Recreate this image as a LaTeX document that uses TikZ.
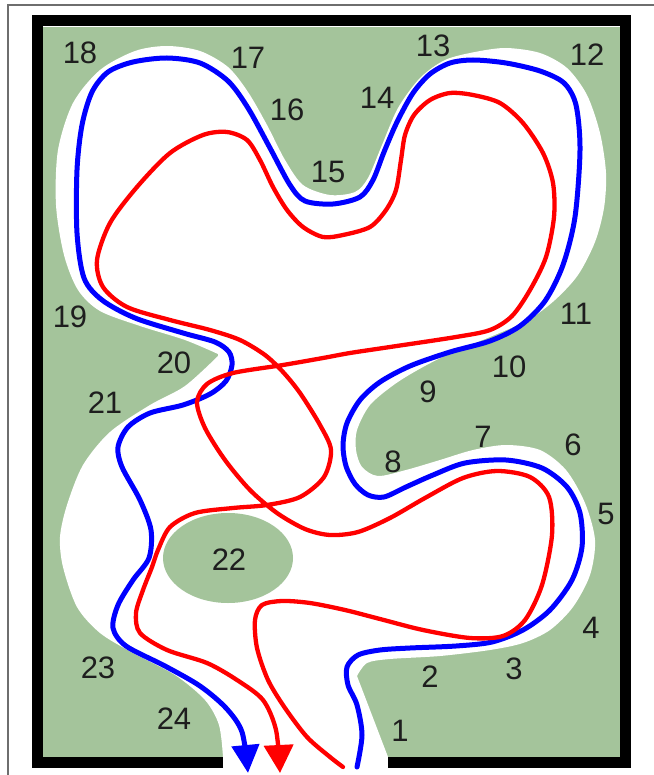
\documentclass[tikz,border=0pt]{standalone}
\usepackage{fontspec}
\setmainfont{Liberation Sans}
\usetikzlibrary{arrows.meta}
\definecolor{floorgreen}{RGB}{164,196,155}
\definecolor{labelgray}{RGB}{30,30,30}
\definecolor{framegray}{RGB}{110,110,110}
\tikzset{
  lbl/.style={text=labelgray,font=\fontsize{31}{32}\selectfont,inner sep=0pt},
  bluepath/.style={draw={rgb,255:red,0;green,0;blue,255},line width=5pt,line cap=round,line join=round},
  redpath/.style={draw={rgb,255:red,255;green,0;blue,0},line width=4.3pt,line cap=round,line join=round},
  wall/.style={line width=11pt,line join=miter,draw=black}
}
\begin{document}
\begin{tikzpicture}[x=1pt,y=-1pt]
\useasboundingbox (0,0) rectangle (653,775);
% outer frame
\draw[framegray,line width=1.5pt] (8,5) rectangle (670,800);
% floor
\fill[floorgreen] (43,27) rectangle (620,757);
% white free area
\fill[white] plot[smooth,tension=0.5] coordinates {(223,757) (219,725) (205,700) (175,675) (133,653) (100,633) (77,607) (63,567) (60,537) (67,505) (83,465) (110,432) (150,405) (185,386) (218,356)}
 -- plot[smooth,tension=0.5] coordinates {(218,354) (185,340) (140,326) (100,311) (78,290) (64,255) (56,205) (58,150) (73,103) (100,70) (135,51) (167,46) (200,51) (228,67) (248,92) (267,125) (285,160) (303,185) (330,195) (355,192) (368,178) (382,145) (398,108) (420,78) (445,60) (475,52) (506,48) (540,53) (567,68) (587,95) (600,133) (606,173) (604,208) (595,242) (578,275) (555,300) (528,320) (490,337) (455,351) (423,367) (395,384) (370,405) (357,430) (356,450) (362,467) (378,476) (406,470) (440,460) (473,450) (506,445) (540,450) (566,470) (585,503) (595,540) (590,575) (573,607) (550,630) (523,643) (490,650) (440,656) (390,659) (367,663) (357,676)}
 -- (388,757) -- (388,780) -- (223,780) -- cycle;
% island 22
\fill[floorgreen] (228,558) ellipse [x radius=65, y radius=45];
% walls
\draw[wall] (223,762.5) -- (37.5,762.5) -- (37.5,21) -- (625.5,21) -- (625.5,762.5) -- (388,762.5);
% blue path
\draw[bluepath,-{Triangle[width=27pt,length=28pt]}] plot[smooth,tension=0.5] coordinates {(357,767) (362,735) (357,705) (348,685) (347,667) (358,655) (380,650) (410,648) (456,646) (492,642) (523,630) (550,610) (572,580) (582,547) (580,513) (567,487) (542,468) (506,460) (465,463) (433,475) (406,487) (384,497) (368,495) (355,484) (346,466) (343,445) (347,423) (360,400) (380,382) (410,366) (450,352) (490,341) (520,326) (545,301) (563,265) (575,217) (580,150) (576,105) (564,83) (540,71) (506,63) (473,60) (450,63) (430,74) (413,93) (397,122) (384,152) (373,180) (360,197) (333,204) (305,201) (290,185) (270,148) (248,108) (228,81) (200,63) (167,58) (133,62) (108,72) (92,92) (82,125) (77,170) (77,233) (84,278) (102,300) (135,318) (183,333) (215,342) (229,352) (232,365) (226,381) (210,394) (183,405) (150,413) (128,427) (118,447) (122,467) (140,500) (151,530) (149,558) (133,580) (118,605) (113,628) (126,646) (165,666) (200,686) (226,708) (242,732) (248,773)};
% red path
\draw[redpath,-{Triangle[width=29pt,length=28pt]}] plot[smooth,tension=0.5] coordinates {(343,767) (330,757) (307,737) (285,708) (268,680) (257,648) (255,620) (262,605) (282,601) (310,603) (345,610) (380,619) (423,630) (470,638) (503,636) (525,620) (542,585) (552,535) (549,497) (530,477) (497,471) (463,478) (425,498) (390,518) (358,532) (330,535) (305,529) (277,513) (250,490) (225,460) (205,428) (197,402) (207,384) (233,373) (283,365) (323,358) (350,353) (390,347) (456,337) (490,330) (512,316) (530,290) (546,257) (554,217) (553,183) (543,153) (523,123) (500,103) (473,95) (450,93) (430,100) (414,115) (405,135) (401,160) (396,190) (386,210) (370,227) (343,235) (323,237) (303,227) (287,210) (273,187) (260,160) (247,140) (227,132) (203,135) (170,153) (137,187) (110,223) (97,260) (103,287) (127,307) (170,320) (210,330) (240,340) (265,355) (283,372) (300,393) (320,425) (331,450) (324,477) (300,497) (267,505) (233,508) (195,513) (170,527) (158,550) (152,567) (143,590) (136,613) (140,633) (167,650) (207,663) (237,680) (263,700) (276,730) (280,773)};
% labels
\node[lbl] (n1) at (400,731) {1};
\node[lbl] (n2) at (430,677) {2};
\node[lbl] (n3) at (514,669) {3};
\node[lbl] (n4) at (591,628) {4};
\node[lbl] (n5) at (606,514) {5};
\node[lbl] (n6) at (573,445) {6};
\node[lbl] (n7) at (483,437) {7};
\node[lbl] (n8) at (393,462) {8};
\node[lbl] (n9) at (428,392) {9};
\node[lbl] (n10) at (509,367) {10};
\node[lbl] (n11) at (576,314) {11};
\node[lbl] (n12) at (587,55) {12};
\node[lbl] (n13) at (433,46) {13};
\node[lbl] (n14) at (377,98) {14};
\node[lbl] (n15) at (328,172) {15};
\node[lbl] (n16) at (287,110) {16};
\node[lbl] (n17) at (248,58) {17};
\node[lbl] (n18) at (80,53) {18};
\node[lbl] (n19) at (70,317) {19};
\node[lbl] (n20) at (174,363) {20};
\node[lbl] (n21) at (105,403) {21};
\node[lbl] (n22) at (229,560) {22};
\node[lbl] (n23) at (98,668) {23};
\node[lbl] (n24) at (174,719) {24};
\end{tikzpicture}
\end{document}
